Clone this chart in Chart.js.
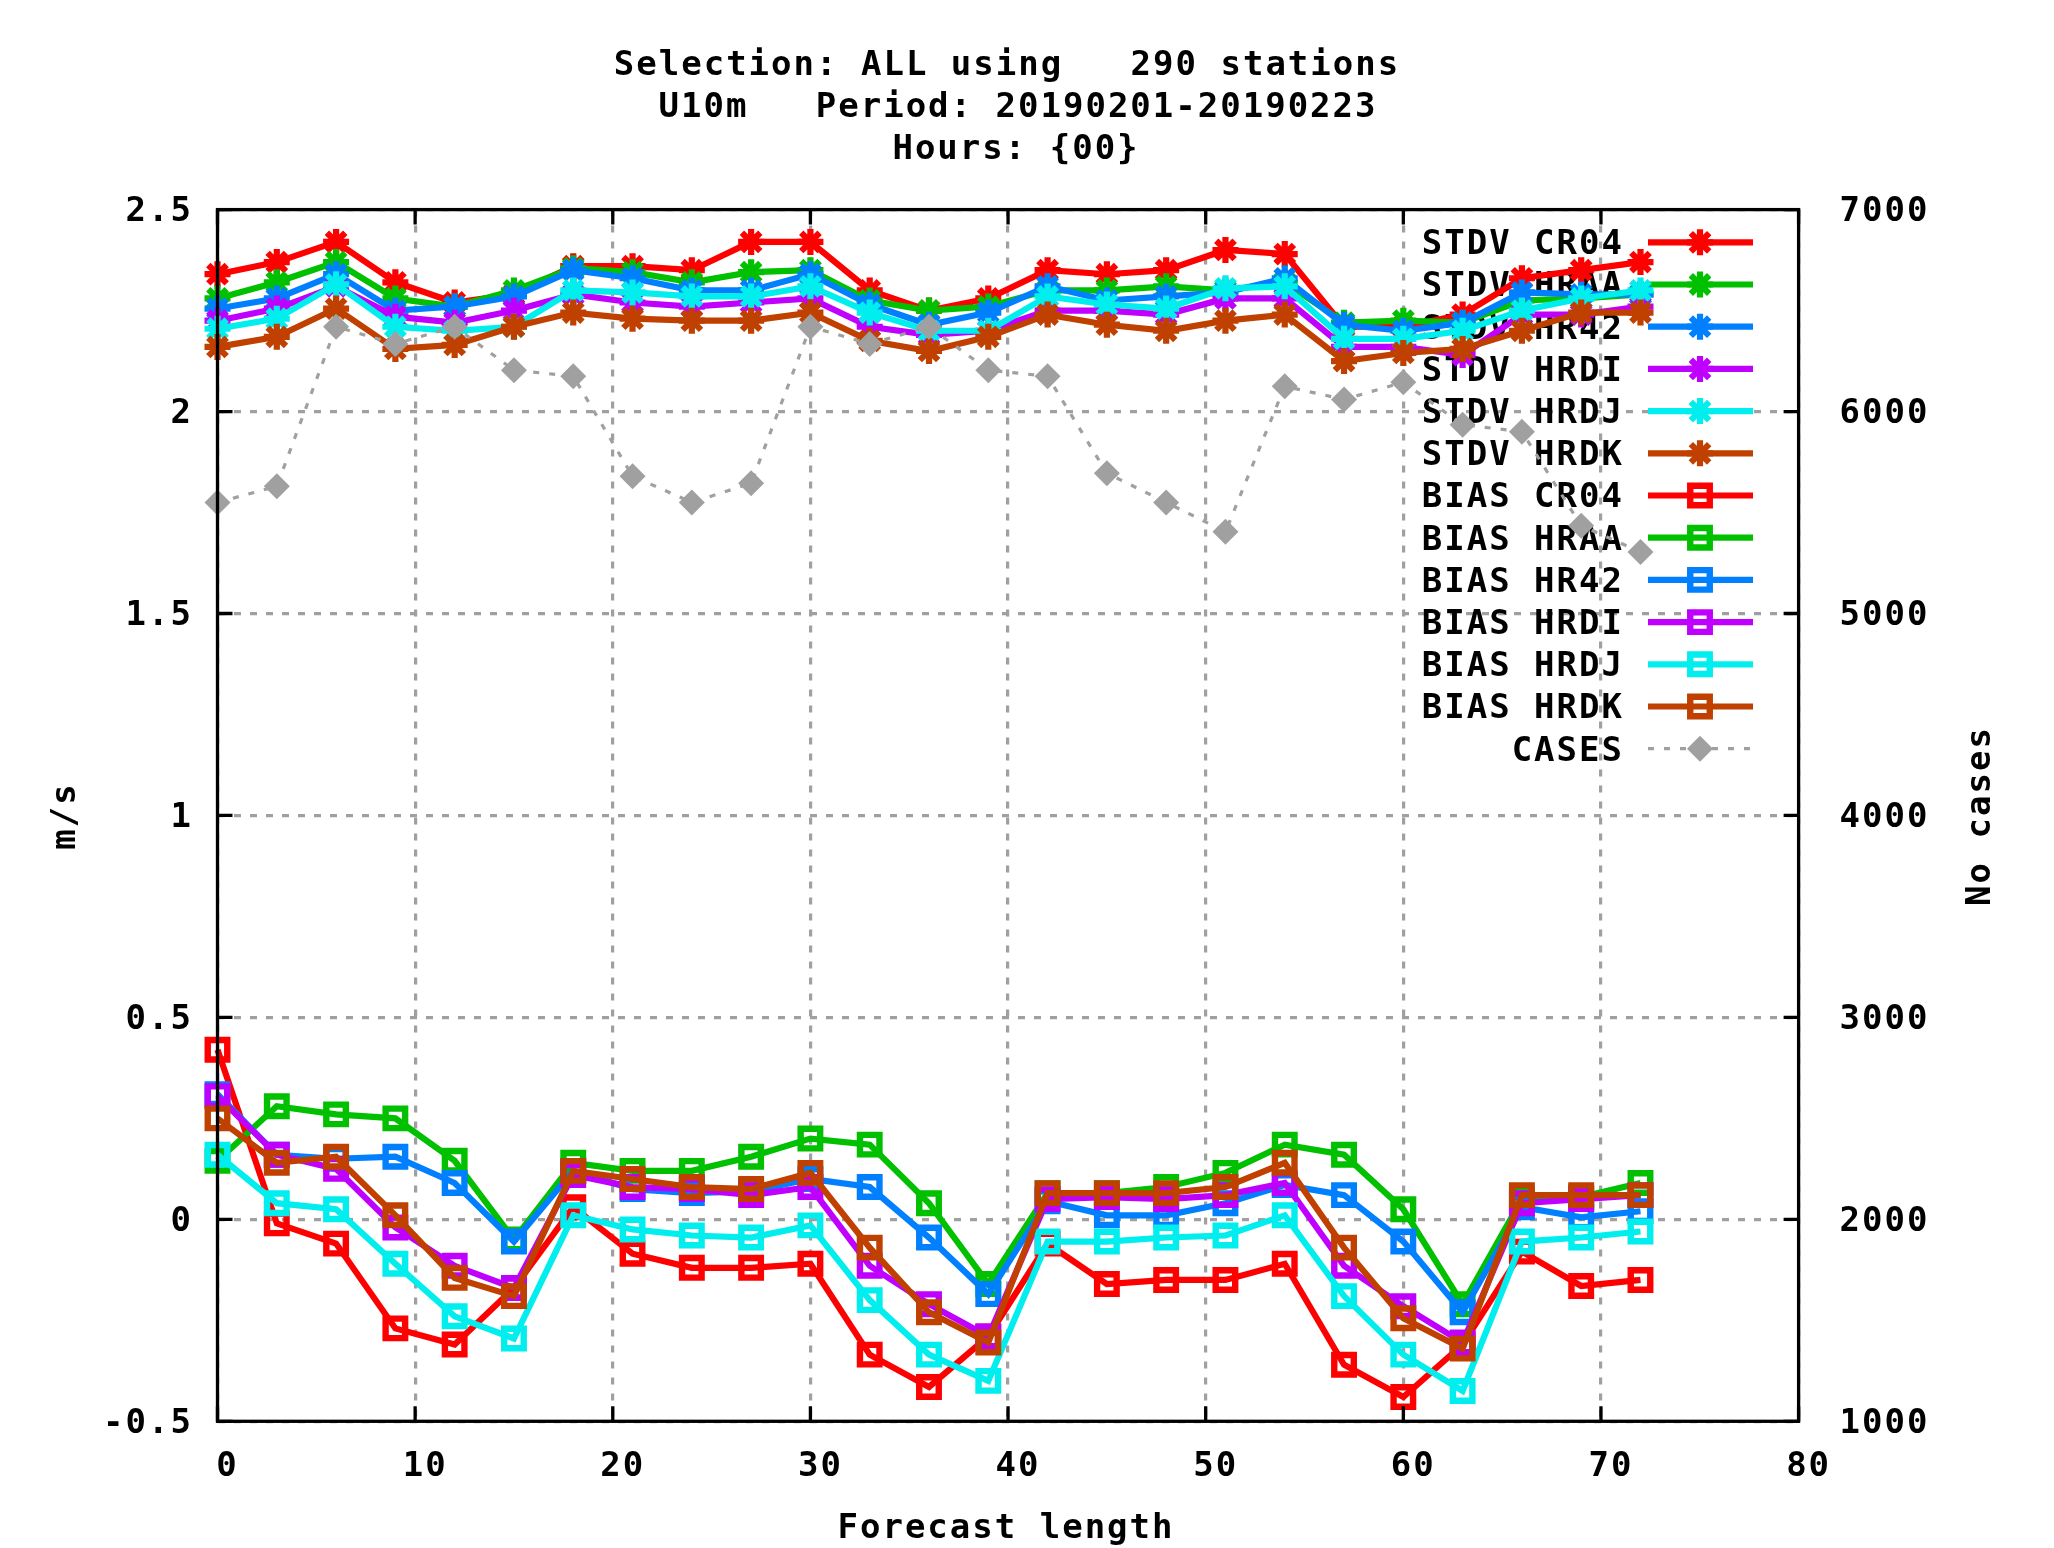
<!DOCTYPE html>
<html><head><meta charset="utf-8">
<script src="https://cdn.jsdelivr.net/npm/chart.js@4.4.1/dist/chart.umd.min.js"></script>
<style>html,body{margin:0;padding:0;background:#fff;}#wrap{width:2054px;height:1548px;}canvas{display:block;}</style>
</head><body><div id="wrap"><canvas id="c" width="2054" height="1548"></canvas></div>
<script>
const forecastHours = [0,3,6,9,12,15,18,21,24,27,30,33,36,39,42,45,48,51,54,57,60,63,66,69,72];

const stdvCR04 = [2.34,2.37,2.42,2.32,2.27,2.29,2.36,2.36,2.35,2.42,2.42,2.30,2.25,2.28,2.35,2.34,2.35,2.40,2.39,2.21,2.21,2.24,2.33,2.35,2.37];
const stdvHRAA = [2.28,2.32,2.37,2.28,2.26,2.30,2.355,2.345,2.32,2.345,2.35,2.275,2.25,2.26,2.30,2.30,2.31,2.30,2.32,2.22,2.225,2.22,2.275,2.28,2.29];
const stdvHR42 = [2.255,2.28,2.34,2.25,2.26,2.285,2.35,2.33,2.30,2.30,2.34,2.265,2.215,2.245,2.31,2.275,2.285,2.295,2.33,2.215,2.20,2.22,2.295,2.29,2.29];
const stdvHRDI = [2.225,2.255,2.31,2.235,2.22,2.25,2.29,2.27,2.26,2.27,2.28,2.21,2.19,2.20,2.25,2.25,2.24,2.28,2.28,2.16,2.16,2.14,2.24,2.24,2.26];
const stdvHRDJ = [2.205,2.23,2.315,2.21,2.20,2.21,2.30,2.295,2.285,2.285,2.31,2.245,2.20,2.20,2.285,2.265,2.255,2.305,2.31,2.18,2.18,2.20,2.25,2.28,2.30];
const stdvHRDK = [2.16,2.185,2.255,2.155,2.165,2.21,2.245,2.23,2.225,2.225,2.245,2.175,2.15,2.185,2.24,2.215,2.20,2.225,2.24,2.125,2.145,2.155,2.20,2.245,2.245];

const biasCR04 = [0.42,-0.01,-0.06,-0.27,-0.31,-0.17,0.03,-0.085,-0.12,-0.12,-0.11,-0.335,-0.415,-0.29,-0.06,-0.16,-0.15,-0.15,-0.11,-0.36,-0.44,-0.31,-0.08,-0.165,-0.15];
const biasHRAA = [0.145,0.28,0.26,0.25,0.145,-0.05,0.14,0.12,0.12,0.155,0.20,0.185,0.04,-0.16,0.065,0.065,0.08,0.115,0.185,0.16,0.025,-0.21,0.05,0.055,0.09];
const biasHR42 = [0.31,0.16,0.15,0.155,0.09,-0.055,0.12,0.075,0.065,0.07,0.10,0.08,-0.045,-0.185,0.045,0.01,0.01,0.04,0.085,0.06,-0.055,-0.23,0.03,0.005,0.02];
const biasHRDI = [0.305,0.16,0.125,-0.02,-0.115,-0.17,0.11,0.08,0.075,0.06,0.08,-0.115,-0.21,-0.29,0.05,0.055,0.05,0.06,0.09,-0.115,-0.215,-0.305,0.04,0.05,0.06];
const biasHRDJ = [0.16,0.04,0.025,-0.11,-0.24,-0.295,0.01,-0.025,-0.04,-0.045,-0.015,-0.2,-0.335,-0.4,-0.055,-0.055,-0.045,-0.04,0.01,-0.19,-0.335,-0.425,-0.055,-0.045,-0.03];
const biasHRDK = [0.25,0.14,0.155,0.01,-0.145,-0.19,0.12,0.10,0.08,0.075,0.115,-0.07,-0.23,-0.305,0.065,0.065,0.065,0.08,0.14,-0.07,-0.245,-0.32,0.06,0.06,0.06];

const cases = [5550,5630,6420,6335,6420,6205,6175,5680,5550,5645,6420,6335,6420,6205,6175,5695,5550,5405,6125,6060,6145,5935,5900,5435,5305];

const stdvNames = ['STDV CR04','STDV HRAA','STDV HR42','STDV HRDI','STDV HRDJ','STDV HRDK'];
const biasNames = ['BIAS CR04','BIAS HRAA','BIAS HR42','BIAS HRDI','BIAS HRDJ','BIAS HRDK'];
const casesName = 'CASES';
const titleLines = ['Selection: ALL using   290 stations', 'U10m   Period: 20190201-20190223', 'Hours: {00}'];
const xTitle = 'Forecast length';
const yTitle = 'm/s';
const y2Title = 'No cases';

const palette = ['#ff0000','#00c000','#0080ff','#c000ff','#00eeee','#c04000'];
const FAMILY = '"DejaVu Sans Mono", "Liberation Mono", monospace';
const FONT = 'bold 34px ' + FAMILY;
const TY = 3; // baseline nudge for text

const toXY = arr => forecastHours.map((x, i) => ({x: x, y: arr[i]}));
const stdvData = [stdvCR04, stdvHRAA, stdvHR42, stdvHRDI, stdvHRDJ, stdvHRDK];
const biasData = [biasCR04, biasHRAA, biasHR42, biasHRDI, biasHRDJ, biasHRDK];

const datasets = [];
stdvData.forEach((arr, i) => datasets.push({
  label: stdvNames[i], data: toXY(arr), yAxisID: 'y',
  borderColor: palette[i], backgroundColor: palette[i], borderWidth: 6.2,
  pointStyle: 'star', pointRadius: 13, pointBorderWidth: 6.2,
  pointBorderColor: palette[i], pointBackgroundColor: palette[i], clip: false
}));
biasData.forEach((arr, i) => datasets.push({
  label: biasNames[i], data: toXY(arr), yAxisID: 'y',
  borderColor: palette[i], backgroundColor: palette[i], borderWidth: 6.2,
  pointStyle: 'rect', pointRadius: 13.8, pointBorderWidth: 6.4,
  pointBorderColor: palette[i], pointBackgroundColor: 'rgba(0,0,0,0)', clip: false
}));
datasets.push({
  label: casesName, data: toXY(cases), yAxisID: 'y2',
  borderColor: '#a0a0a0', backgroundColor: '#a0a0a0', borderWidth: 3.2, borderDash: [6, 10],
  pointStyle: 'rectRot', pointRadius: 13, pointBorderWidth: 0,
  pointBorderColor: '#a0a0a0', pointBackgroundColor: '#a0a0a0', clip: false
});
datasets.forEach((d, i) => { d.order = datasets.length - 1 - i; d.tension = 0; });

const gnuplotDecor = {
  id: 'gnuplotDecor',
  beforeDraw(chart) {
    const ctx = chart.ctx;
    ctx.save(); ctx.fillStyle = '#fff'; ctx.fillRect(0, 0, chart.width, chart.height); ctx.restore();
    if ('letterSpacing' in ctx) ctx.letterSpacing = '2px';
  },
  beforeDatasetsDraw(chart) {
    const ctx = chart.ctx;
    const lx = 1624, sx1 = 1648, sx2 = 1753, mx = 1700, y0 = 242.3, dy = 42.2;
    ctx.save();
    chart.data.datasets.forEach((ds, i) => {
      const y = y0 + i * dy;
      ctx.font = FONT; ctx.fillStyle = '#000'; ctx.textAlign = 'right'; ctx.textBaseline = 'middle';
      ctx.fillText(ds.label, lx, y + TY);
      ctx.strokeStyle = ds.borderColor; ctx.lineWidth = ds.borderWidth;
      ctx.setLineDash(ds.borderDash || []);
      ctx.beginPath(); ctx.moveTo(sx1, y); ctx.lineTo(sx2, y); ctx.stroke();
      ctx.setLineDash([]);
      ctx.strokeStyle = ds.pointBorderColor; ctx.fillStyle = ds.pointBackgroundColor;
      ctx.lineWidth = ds.pointBorderWidth;
      Chart.helpers.drawPoint(ctx, {pointStyle: ds.pointStyle, radius: ds.pointRadius, borderWidth: ds.pointBorderWidth, rotation: 0}, mx, y);
    });
    ctx.restore();
  },
  afterDatasetsDraw(chart) {
    const ctx = chart.ctx;
    const {left, right, top, bottom} = chart.chartArea;
    const tl = 15;
    ctx.save();
    ctx.strokeStyle = '#000'; ctx.lineWidth = 3.3; ctx.setLineDash([]);
    ctx.strokeRect(left, top, right - left, bottom - top);
    ctx.beginPath();
    chart.scales.x.ticks.forEach(t => {
      const p = chart.scales.x.getPixelForValue(t.value);
      ctx.moveTo(p, bottom); ctx.lineTo(p, bottom - tl);
      ctx.moveTo(p, top); ctx.lineTo(p, top + tl);
    });
    chart.scales.y.ticks.forEach(t => {
      const p = chart.scales.y.getPixelForValue(t.value);
      ctx.moveTo(left, p); ctx.lineTo(left + tl, p);
    });
    chart.scales.y2.ticks.forEach(t => {
      const p = chart.scales.y2.getPixelForValue(t.value);
      ctx.moveTo(right, p); ctx.lineTo(right - tl, p);
    });
    ctx.stroke();
    ctx.restore();
  },
  afterDraw(chart) {
    const ctx = chart.ctx;
    ctx.save();
    ctx.font = FONT; ctx.fillStyle = '#000'; ctx.textAlign = 'center'; ctx.textBaseline = 'middle';
    const tx = [1007, 1018, 1016], ty = [63, 105, 147];
    titleLines.forEach((s, i) => ctx.fillText(s, tx[i], ty[i] + TY));
    ctx.fillText(xTitle, 1006, 1526 + TY);
    ctx.save(); ctx.translate(63 + TY, 816); ctx.rotate(-Math.PI / 2); ctx.fillText(yTitle, 0, 0); ctx.restore();
    ctx.save(); ctx.translate(1978 + TY, 816); ctx.rotate(-Math.PI / 2); ctx.fillText(y2Title, 0, 0); ctx.restore();
    ctx.restore();
  }
};

Chart.defaults.font.family = FAMILY;
Chart.defaults.font.size = 34;
Chart.defaults.font.weight = 'bold';
Chart.defaults.color = '#000';

const gridOpts = {color: '#a0a0a0', lineWidth: 3.2, drawTicks: false};
new Chart(document.getElementById('c'), {
  type: 'line',
  data: {datasets: datasets},
  plugins: [gnuplotDecor],
  options: {
    responsive: false, animation: false, devicePixelRatio: 1,
    layout: {padding: {top: 209.6, left: 0, right: 0, bottom: 0}},
    plugins: {legend: {display: false}, title: {display: false}, tooltip: {enabled: false}},
    events: [],
    scales: {
      x: {type: 'linear', position: 'bottom', min: 0, max: 80,
          ticks: {stepSize: 10, padding: 25, labelOffset: 10, maxRotation: 0, callback: v => String(v)},
          grid: gridOpts, border: {display: false, dash: [7, 9]},
          afterFit: s => { s.height = 126.7; }},
      y: {type: 'linear', position: 'left', min: -0.5, max: 2.5,
          ticks: {stepSize: 0.5, padding: 24.5, labelOffset: TY, callback: v => String(v)},
          grid: gridOpts, border: {display: false, dash: [7, 9]},
          afterFit: s => { s.width = 217.5; }},
      y2: {type: 'linear', position: 'right', min: 1000, max: 7000,
          ticks: {stepSize: 1000, padding: 41, labelOffset: TY, callback: v => String(v)},
          grid: {drawOnChartArea: false, drawTicks: false}, border: {display: false},
          afterFit: s => { s.width = 255.4; }}
    }
  }
});
</script></body></html>
